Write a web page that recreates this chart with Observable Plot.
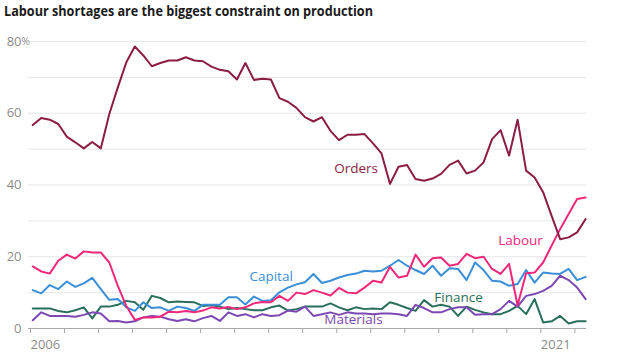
<!DOCTYPE html>
<html><head><meta charset="utf-8">
<script src="https://cdn.jsdelivr.net/npm/d3@7"></script>
<script src="https://cdn.jsdelivr.net/npm/@observablehq/plot@0.6"></script>
<style>
body{margin:0;background:#fff;font-family:"Open Sans",sans-serif;}
svg{display:block}
</style></head><body>
<svg id="title" width="628" height="30"><text x="4" y="16" font-family="Open Sans" font-weight="700" font-size="14.5" fill="#1a1a1a" textLength="369" lengthAdjust="spacingAndGlyphs">Labour shortages are the biggest constraint on production</text></svg>
<div id="chart"></div>
<script>
// Quarterly survey data, 2006 Q1 onwards (% of firms citing each constraint)
const startYear = 2006;
const seriesNames = ["Finance", "Materials", "Capital", "Labour", "Orders"];
const orders = [56.7,58.7,58.2,57.0,53.5,51.9,50.2,52.0,50.2,59.8,67.2,74.2,78.6,76.1,73.1,74.0,74.7,74.7,75.6,74.7,74.5,73.0,72.1,71.7,69.4,74.0,69.3,69.6,69.4,64.2,63.2,61.5,58.9,57.7,58.9,55.1,52.5,54.0,54.0,54.2,51.6,48.8,40.3,45.1,45.6,41.7,41.2,41.8,43.1,45.6,46.8,43.2,44.0,46.3,52.8,55.3,48.2,58.2,44.0,42.1,38.0,31.4,24.9,25.4,26.8,30.5];
const labour = [17.3,15.9,15.3,18.9,20.6,19.5,21.5,21.2,21.2,18.4,11.9,6.3,2.4,3.1,3.1,3.3,4.7,4.5,4.9,4.5,5.0,5.9,5.6,6.0,5.4,5.9,7.0,7.4,7.3,9.1,7.7,10.0,9.6,10.7,10.0,9.2,11.3,10.0,9.8,11.4,13.3,12.8,17.2,14.2,14.7,20.6,17.2,19.6,19.8,17.5,18.0,20.8,19.6,20.0,16.6,15.2,18.0,6.5,15.4,15.6,18.4,23.1,27.7,31.9,36.1,36.5];
const capital = [10.7,9.8,12.1,11.0,13.1,11.6,12.6,14.1,11.0,8.0,8.2,5.9,4.9,7.3,5.7,5.9,4.9,6.1,5.7,4.9,6.6,6.6,6.6,8.7,8.7,6.7,8.9,7.7,7.9,10.1,11.4,12.3,12.9,15.2,12.7,13.3,14.2,14.9,15.3,16.1,15.9,16.1,17.5,19.1,17.5,16.3,15.2,17.5,14.7,16.8,16.6,13.5,18.4,16.3,13.3,13.1,11.9,12.4,16.3,12.8,15.6,15.3,15.2,16.6,13.5,14.4];
const finance = [5.6,5.6,5.6,4.9,4.5,5.1,5.9,2.8,6.1,6.1,6.6,7.7,7.3,5.2,9.1,8.5,7.3,7.5,7.4,7.3,6.3,6.5,6.1,5.4,5.7,5.4,5.1,5.1,5.9,6.4,5.0,5.4,6.1,6.1,6.1,7.0,5.9,5.1,5.9,5.4,5.6,5.4,7.3,6.6,5.7,4.9,7.9,6.1,6.6,6.1,3.5,6.1,5.2,4.5,4.0,4.0,4.9,6.3,4.0,8.2,1.7,2.0,3.5,1.4,2.0,2.0];
const materials = [2.3,4.5,3.5,3.5,3.5,3.3,3.8,4.5,4.2,2.0,2.1,1.7,2.0,3.1,3.5,3.3,2.6,2.1,2.6,2.0,2.9,3.5,2.1,4.5,3.5,4.0,3.1,4.0,3.5,3.7,5.0,4.7,6.1,3.5,4.0,4.5,3.8,4.5,4.2,4.2,4.0,4.2,4.2,4.0,3.5,6.6,5.7,4.5,4.5,5.4,5.9,5.9,3.8,4.0,4.0,5.4,7.7,6.1,9.1,9.6,10.5,11.9,14.7,13.5,11.4,8.2];
const yTickLabels = [0, 20, 40, 60, 80];
const xTickYears = d3.range(2006, 2023);
const xLabelYears = [2006, 2021];

const values = {Orders: orders, Labour: labour, Capital: capital, Finance: finance, Materials: materials};
const colors = {Orders: "#8b1d45", Labour: "#f0287a", Capital: "#3b8fd8", Finance: "#2a6f5b", Materials: "#7d48b3"};

const rows = seriesNames.flatMap(name => values[name].map((v, i) => ({series: name, t: startYear + 0.125 + 0.25 * i, v})));

// label anchors in data units
const labels = [
  {series: "Orders", t: 2015.63, v: 44.6},
  {series: "Labour", t: 2020.46, v: 24.5},
  {series: "Capital", t: 2013.13, v: 14.5},
  {series: "Finance", t: 2018.64, v: 8.6},
  {series: "Materials", t: 2015.55, v: 2.5}
];

const chart = Plot.plot({
  width: 628, height: 328,
  marginLeft: 28, marginRight: 42, marginTop: 11, marginBottom: 30,
  x: {domain: [2006, 2022.4]},
  y: {domain: [0, 80]},
  color: {domain: seriesNames, range: seriesNames.map(n => colors[n])},
  style: {fontFamily: "Open Sans", fontSize: "13px", color: "#8c8c8c", background: "white"},
  marks: [
    Plot.gridY(d3.range(10, 90, 10), {stroke: "#e6e6e6", strokeOpacity: 1}),
    Plot.axisY(yTickLabels, {tickSize: 0, tickPadding: 7, fill: "#8c8c8c", label: null}),
    Plot.text([80], {y: d => d, text: () => "%", frameAnchor: "left", dx: -7, textAnchor: "start", fill: "#8c8c8c", fontSize: 10}),
    Plot.axisX(xTickYears, {tickSize: 5, tickPadding: 6, stroke: "#a8a8a8", fill: "#8c8c8c", textAnchor: "start", dx: 2, tickFormat: d => xLabelYears.includes(d) ? String(d) : "", label: null}),
    Plot.ruleY([0], {stroke: "#a8a8a8"}),
    Plot.line(rows, {x: "t", y: "v", z: "series", stroke: "series", strokeWidth: 2, strokeLinejoin: "round"}),
    Plot.text(labels, {x: "t", y: "v", text: "series", fill: "series", fontSize: 13.5, textAnchor: "middle"})
  ]
});
document.getElementById("chart").appendChild(chart);
</script>
</body></html>
